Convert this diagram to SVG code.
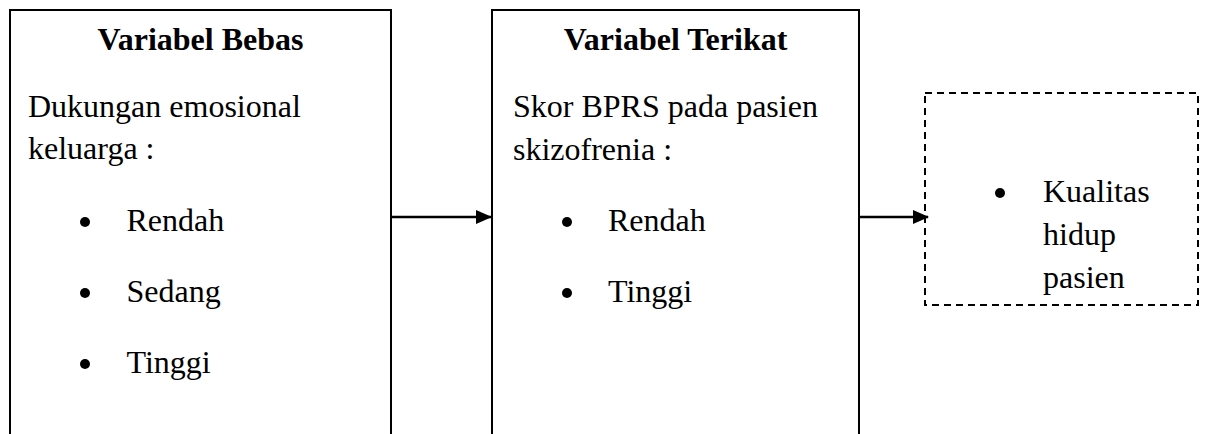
<svg xmlns="http://www.w3.org/2000/svg" width="1207" height="434" viewBox="0 0 1207 434">
<style>
.box{fill:#fff;stroke:#000;stroke-width:2}
.dash{fill:#fff;stroke:#000;stroke-width:2;stroke-dasharray:7 5}
.t{font-family:"Liberation Serif","Times New Roman",serif;font-size:32px;fill:#000}
.h{font-weight:bold;text-anchor:middle}
.b{fill:#000}
.conn{stroke:#000;stroke-width:2.5;fill:none}
</style>
<defs>
<marker id="ah" markerWidth="16" markerHeight="16" refX="15" refY="8" orient="auto" markerUnits="userSpaceOnUse">
<path d="M0,1 L16,8 L0,15 Z" fill="#000"/>
</marker>
</defs>
<rect width="1207" height="434" fill="#fff"/>
<g id="node-bebas">
<rect class="box" x="10" y="10" width="381" height="440"/>
<text class="t h" x="200.5" y="50">Variabel Bebas</text>
<text class="t" x="28" y="117">Dukungan emosional</text>
<text class="t" x="28" y="159">keluarga :</text>
<circle class="b" cx="85" cy="222" r="5"/>
<text class="t" x="126.5" y="231">Rendah</text>
<circle class="b" cx="85" cy="293" r="5"/>
<text class="t" x="126.5" y="302">Sedang</text>
<circle class="b" cx="85" cy="364" r="5"/>
<text class="t" x="126.5" y="373">Tinggi</text>
</g>
<g id="node-terikat">
<rect class="box" x="492" y="10" width="367" height="440"/>
<text class="t h" x="675.5" y="50">Variabel Terikat</text>
<text class="t" x="513" y="117">Skor BPRS pada pasien</text>
<text class="t" x="513" y="160">skizofrenia :</text>
<circle class="b" cx="567" cy="222" r="5"/>
<text class="t" x="608" y="231">Rendah</text>
<circle class="b" cx="567" cy="293" r="5"/>
<text class="t" x="608" y="302">Tinggi</text>
</g>
<g id="node-kualitas">
<rect class="dash" x="925" y="93" width="273" height="212"/>
<circle class="b" cx="1000" cy="193" r="5"/>
<text class="t" x="1043" y="202">Kualitas</text>
<text class="t" x="1043" y="245">hidup</text>
<text class="t" x="1043" y="288">pasien</text>
</g>
<g id="connectors">
<line class="conn" x1="391" y1="217" x2="491" y2="217" marker-end="url(#ah)"/>
<line class="conn" x1="859" y1="217" x2="928" y2="217" marker-end="url(#ah)"/>
</g>
</svg>
